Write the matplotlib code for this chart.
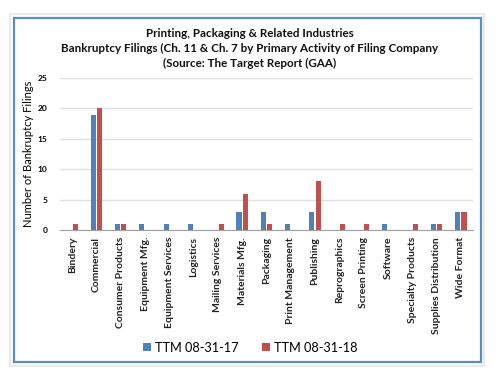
import matplotlib
matplotlib.use("Agg")
import matplotlib.pyplot as plt
from matplotlib.patches import Rectangle
import numpy as np

# ------------------------------
# Data
# ------------------------------
categories = ["Bindery", "Commercial", "Consumer Products", "Equipment Mfg.",
              "Equipment Services", "Logistics", "Mailing Services", "Materials Mfg.",
              "Packaging", "Print Management", "Publishing", "Reprographics",
              "Screen Printing", "Software", "Specialty Products",
              "Supplies Distribution", "Wide Format"]
ttm_17 = [0, 19, 1, 1, 1, 1, 0, 3, 3, 1, 3, 0, 0, 1, 0, 1, 3]
ttm_18 = [1, 20, 1, 0, 0, 0, 1, 6, 1, 0, 8, 1, 1, 0, 1, 1, 3]
series_labels = ["TTM 08-31-17", "TTM 08-31-18"]
title = ("Printing, Packaging & Related Industries\n"
         "Bankruptcy Filings (Ch. 11 & Ch. 7 by Primary Activity of Filing Company\n"
         "(Source: The Target Report (GAA)")

plt.rcParams['font.family'] = ['Lato', 'DejaVu Sans']
BLUE = '#4F81BD'
RED = '#C0504D'

fig = plt.figure(figsize=(5.0, 3.79), dpi=100)
fig.patch.set_facecolor('white')

# chart border (light shadow + blue frame)
fig.patches.append(Rectangle((0.02, 0.034), 0.948, 0.93, transform=fig.transFigure,
                             fill=False, edgecolor='#e6e6e6', linewidth=1.2))
fig.patches.append(Rectangle((0.027, 0.045), 0.935, 0.908, transform=fig.transFigure,
                             fill=False, edgecolor='#5b8bc9', linewidth=1.6))

ax = fig.add_axes([0.12, 0.393, 0.826, 0.401])
x = np.arange(len(categories))
w = 0.21
ax.bar(x - 0.13, ttm_17, w, color=BLUE, label=series_labels[0], zorder=3)
ax.bar(x + 0.13, ttm_18, w, color=RED, label=series_labels[1], zorder=3)

ax.set_xlim(-0.5, len(categories) - 0.5)
ax.set_ylim(0, 25)
ax.set_yticks(range(0, 26, 5))
ax.yaxis.grid(True, color='#e0e0e0', linewidth=1.0, zorder=0)
ax.set_axisbelow(True)
for s in ['top', 'right', 'left']:
    ax.spines[s].set_visible(False)
ax.spines['bottom'].set_color('#a0a0a0')
ax.tick_params(axis='both', length=0)
ax.tick_params(axis='y', labelsize=6, pad=9)
ax.set_xticks(x)
ax.set_xticklabels(categories, rotation=90, fontsize=7.5, fontweight='bold',
                   va='top', color='#222222')
ax.tick_params(axis='x', pad=5)
for t in ax.get_yticklabels():
    t.set_fontweight('bold')
ax.set_ylabel('Number of Bankruptcy Filings', fontsize=8, labelpad=3)

fig.text(0.5, 0.925, title, ha='center', va='top', fontsize=8.4, fontweight='bold',
         linespacing=1.4, color='#111111')

fig.legend(loc='center', bbox_to_anchor=(0.5, 0.083), ncol=2, frameon=False,
           fontsize=9.2, handlelength=0.65, handleheight=0.65, handletextpad=0.3,
           columnspacing=1.8)

plt.savefig('out.png', dpi=100)
